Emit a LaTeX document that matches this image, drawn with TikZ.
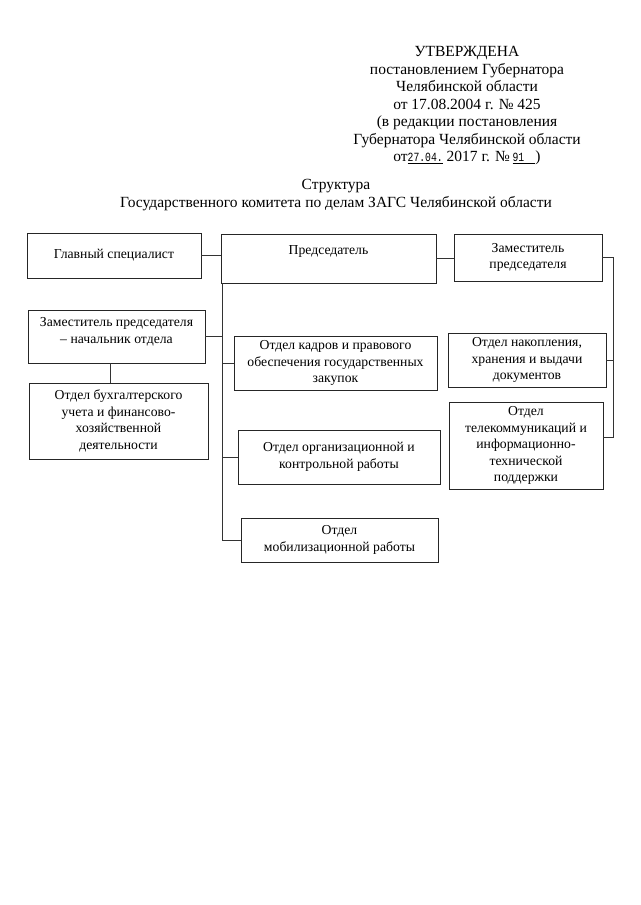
\documentclass[tikz,border=0pt]{standalone}
\usepackage{fontspec}
\setmainfont{Liberation Serif}
\newfontfamily\monof[FakeStretch=0.78]{Liberation Mono}
\begin{document}
\begin{tikzpicture}[x=1pt,y=-1pt,
  box/.style={draw=black!85, line width=0.8pt, inner sep=0pt, align=center, font=\fontsize{13.7}{16.5}\selectfont},
  conn/.style={draw=black!80, line width=0.8pt},
  hdr/.style={inner sep=0pt, align=center, font=\fontsize{15.5}{17.5}\selectfont}]
\useasboundingbox[fill=white] (0,0) rectangle (640,905);
% header
\node[hdr,anchor=north] (appr) at (467,46.5) {УТВЕРЖДЕНА\\постановлением Губернатора\\Челябинской области\\от 17.08.2004 г. № 425\\(в редакции постановления\\Губернатора Челябинской области\\от\underline{\monof\fontsize{12.5}{14}\selectfont 27.04.} 2017 г. №\,\underline{\monof\fontsize{12.5}{14}\selectfont 91\hspace{0.9em}})};
\node[hdr,anchor=north] (title) at (336,179.5) {Структура\\Государственного комитета по делам ЗАГС Челябинской области};
% boxes
\node[box, minimum width=174, minimum height=45] (gs) at (114,255.5) {Главный специалист};
\node[box, minimum width=215, minimum height=49] (pred) at (328.5,258.5) {Председатель\\\mbox{}};
\node[box, minimum width=148, minimum height=47] (zam) at (528,257.5) {Заместитель\\председателя};
\node[box, minimum width=177, minimum height=53] (zamnach) at (116.5,336.5) {Заместитель председателя\\– начальник отдела\\[-4pt]\mbox{}};
\node[box, minimum width=179, minimum height=76] (buh) at (118.5,421) {Отдел бухгалтерского\\учета и финансово-\\хозяйственной\\деятельности};
\node[box, minimum width=203, minimum height=54] (kadr) at (335.5,363) {Отдел кадров и правового\\обеспечения государственных\\закупок};
\node[box, minimum width=202, minimum height=54] (org) at (339,457) {Отдел организационной и\\контрольной работы};
\node[box, minimum width=197, minimum height=44] (mob) at (339.5,540) {Отдел\\мобилизационной работы};
\node[box, minimum width=158, minimum height=54] (nak) at (527,360) {Отдел накопления,\\хранения и выдачи\\документов};
\node[box, minimum width=154, minimum height=87] (tel) at (526,445.5) {Отдел\\телекоммуникаций и\\информационно-\\технической\\поддержки};
% connectors
\draw[conn] (gs.east) -- (gs.east -| pred.west);
\draw[conn] (pred.east) -- (pred.east -| zam.west);
\coordinate (lt) at ([xshift=2pt]pred.south west);
\draw[conn] (lt) -- (lt |- mob.west) -- (mob.west);
\draw[conn] (lt |- zamnach.east) -- (zamnach.east);
\draw[conn] (lt |- kadr.west) -- (kadr.west);
\draw[conn] (lt |- org.west) -- (org.west);
\coordinate (rt) at ([xshift=11pt]zam.east);
\coordinate (telc) at ([yshift=8pt]tel.east);
\draw[conn] (zam.east) -- (rt) -- (rt |- telc) -- (telc);
\draw[conn] (rt |- nak.east) -- (nak.east);
\draw[conn] ([xshift=-6pt]zamnach.south) -- ([xshift=-6pt]zamnach.south |- buh.north);
\end{tikzpicture}
\end{document}
